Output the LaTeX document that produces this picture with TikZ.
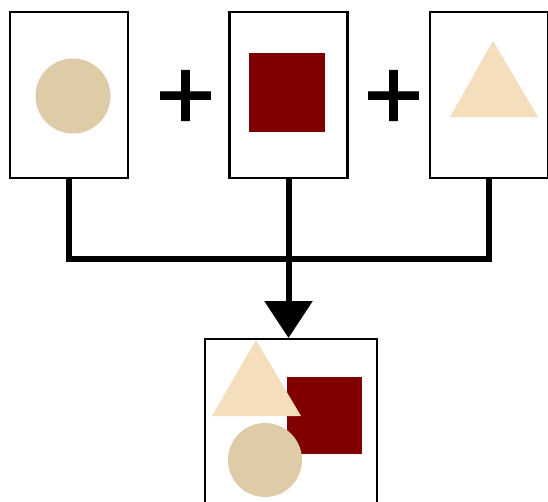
\documentclass[tikz,border=0pt]{standalone}
\usepackage{fontspec}
\setmainfont{Liberation Sans}
\newfontfamily\plusfont{Liberation Sans}[FakeBold=1.2]
\usetikzlibrary{arrows.meta}
\definecolor{circlefill}{RGB}{222,203,168}
\definecolor{squarefill}{RGB}{128,0,0}
\definecolor{trianglefill}{RGB}{245,222,187}
\tikzset{
  panel/.style={draw=black, line width=2.2pt, fill=white, minimum width=118pt, minimum height=166pt, inner sep=0pt},
  plussign/.style={inner sep=0pt, font=\plusfont\fontsize{102}{102}\selectfont},
  link/.style={draw=black, line width=6pt, line join=miter},
}
\begin{document}
\begin{tikzpicture}[x=1pt, y=-1pt]
  \useasboundingbox (0,0) rectangle (548,501);
  \clip (0,0) rectangle (548,501);

  % three operand panels
  \node[panel] (box1) at (69,95) {};
  \node[panel] (box2) at (288.5,95) {};
  \node[panel] (box3) at (489,95) {};
  % result panel, running past the bottom edge
  \node[panel, minimum width=172pt, minimum height=200pt, anchor=north] (box4) at (291,338) {};

  % plus signs between panels
  \node[plussign] (plus1) at (185.5,100) {+};
  \node[plussign] (plus2) at (393.5,100) {+};

  % shapes inside the operand panels
  \fill[circlefill] (73,96) circle (37.5);
  \fill[squarefill] (249,53) rectangle (325,132);
  \fill[trianglefill] (493,41) -- (538,117) -- (450,117) -- cycle;

  % shapes combined inside the result panel
  \fill[squarefill] (287,377) rectangle (362,454);
  \fill[trianglefill] (256,340) -- (301,416) -- (212,416) -- cycle;
  \fill[circlefill] (265,460) circle (37);

  % connectors joining the panels
  \coordinate (join) at (288.5,259);
  \draw[link] (box1.south) -- (box1.south |- join) -- (box3.south |- join) -- (box3.south);
  \draw[link] (box2.south) -- (join);
  \draw[link, -{Triangle[width=47pt, length=37pt]}] (join) -- (join |- box4.north);
\end{tikzpicture}
\end{document}
